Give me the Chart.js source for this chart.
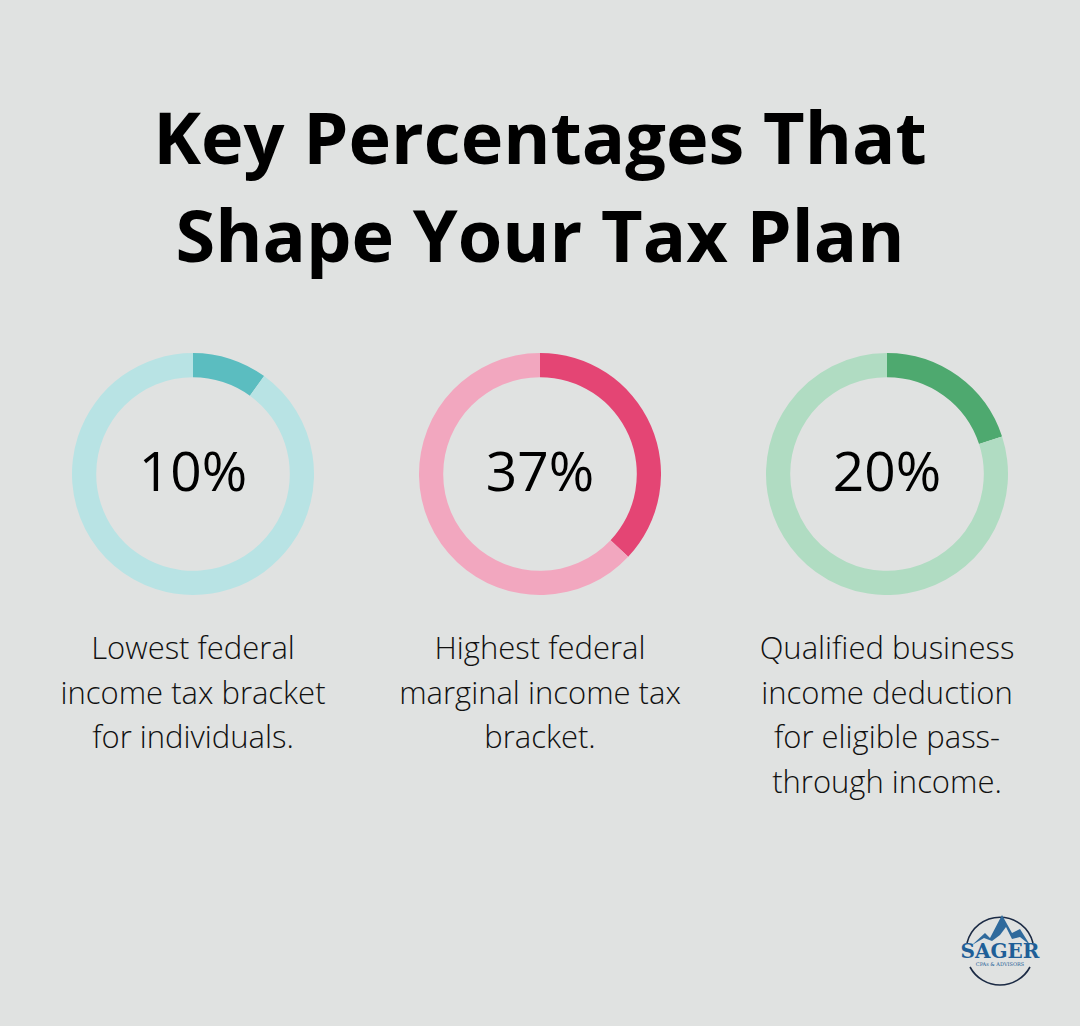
<!DOCTYPE html>
<html>
<head>
<meta charset="utf-8">
<script src="https://cdn.jsdelivr.net/npm/chart.js@4/dist/chart.umd.min.js"></script>
<style>
  html,body{margin:0;padding:0;}
  body{width:1080px;height:1026px;background:#e0e2e1;position:relative;overflow:hidden;font-family:"Open Sans",sans-serif;}
  #title{position:absolute;left:0;top:87px;width:1080px;text-align:center;font-weight:700;font-size:72px;line-height:98px;color:#000;}
  .cv{position:absolute;width:242px;height:242px;}
  .pct{position:absolute;width:300px;text-align:center;font-size:55px;line-height:60px;color:#000;font-weight:500;}
  .desc{position:absolute;width:340px;text-align:center;font-size:31px;line-height:44.5px;color:#111;font-weight:300;}
  #logo{position:absolute;left:950px;top:905px;width:100px;height:85px;}
</style>
</head>
<body>
<div id="title">Key Percentages That<br>Shape Your Tax Plan</div>
<div id="charts"></div>
<svg id="logo" viewBox="0 0 100 85">
  <path d="M 17 38 A 34 34 0 0 1 83 38" fill="none" stroke="#1b2a44" stroke-width="1.6"/>
  <path d="M 20 62 A 34 34 0 0 0 80 62" fill="none" stroke="#1b2a44" stroke-width="1.6"/>
  <polygon points="22,40 35,28 40,33 52,10 62,28 70,24 80,40 70,32 62,34 56,22 50,30 42,36 34,33" fill="#2f6a9c"/>
  <text x="50" y="53" text-anchor="middle" font-family="DejaVu Serif, serif" font-size="20" fill="#1f5f97" font-weight="700">SAGER</text>
  <text x="50" y="61" text-anchor="middle" font-family="DejaVu Serif, serif" font-size="5" fill="#1f5f97">CPAs &amp; ADVISORS</text>
</svg>
<script>
const categories = ["Lowest federal income tax bracket for individuals.", "Highest federal marginal income tax bracket.", "Qualified business income deduction for eligible pass-through income."];
const labelLines = [["Lowest federal","income tax bracket","for individuals."],["Highest federal","marginal income tax","bracket."],["Qualified business","income deduction","for eligible pass-","through income."]];
const values = [10, 37, 20];
const darkColors = ["#5bbdc0", "#e44574", "#4ea96f"];
const lightColors = ["#b8e3e4", "#f2a7bf", "#b0dcc2"];
const centersX = [193, 540, 887];
const centerY = 474;

const host = document.getElementById('charts');
values.forEach((v, i) => {
  const c = document.createElement('canvas');
  c.className = 'cv';
  c.width = 242; c.height = 242;
  c.style.left = (centersX[i] - 121) + 'px';
  c.style.top = (centerY - 121) + 'px';
  host.appendChild(c);
  new Chart(c, {
    type: 'doughnut',
    data: {
      labels: [categories[i], 'Rest'],
      datasets: [{ data: [v, 100 - v], backgroundColor: [darkColors[i], lightColors[i]], borderWidth: 0, hoverOffset: 0 }]
    },
    options: {
      responsive: false, animation: false, cutout: '80%',
      layout: { padding: 0 },
      plugins: { legend: { display: false }, tooltip: { enabled: false } },
      events: []
    }
  });
  const p = document.createElement('div');
  p.className = 'pct';
  p.textContent = v + '%';
  p.style.left = (centersX[i] - 150) + 'px';
  p.style.top = '440px';
  document.body.appendChild(p);
  const d = document.createElement('div');
  d.className = 'desc';
  d.innerHTML = labelLines[i].join('<br>');
  d.style.left = (centersX[i] - 170) + 'px';
  d.style.top = '625px';
  document.body.appendChild(d);
});
</script>
</body>
</html>
